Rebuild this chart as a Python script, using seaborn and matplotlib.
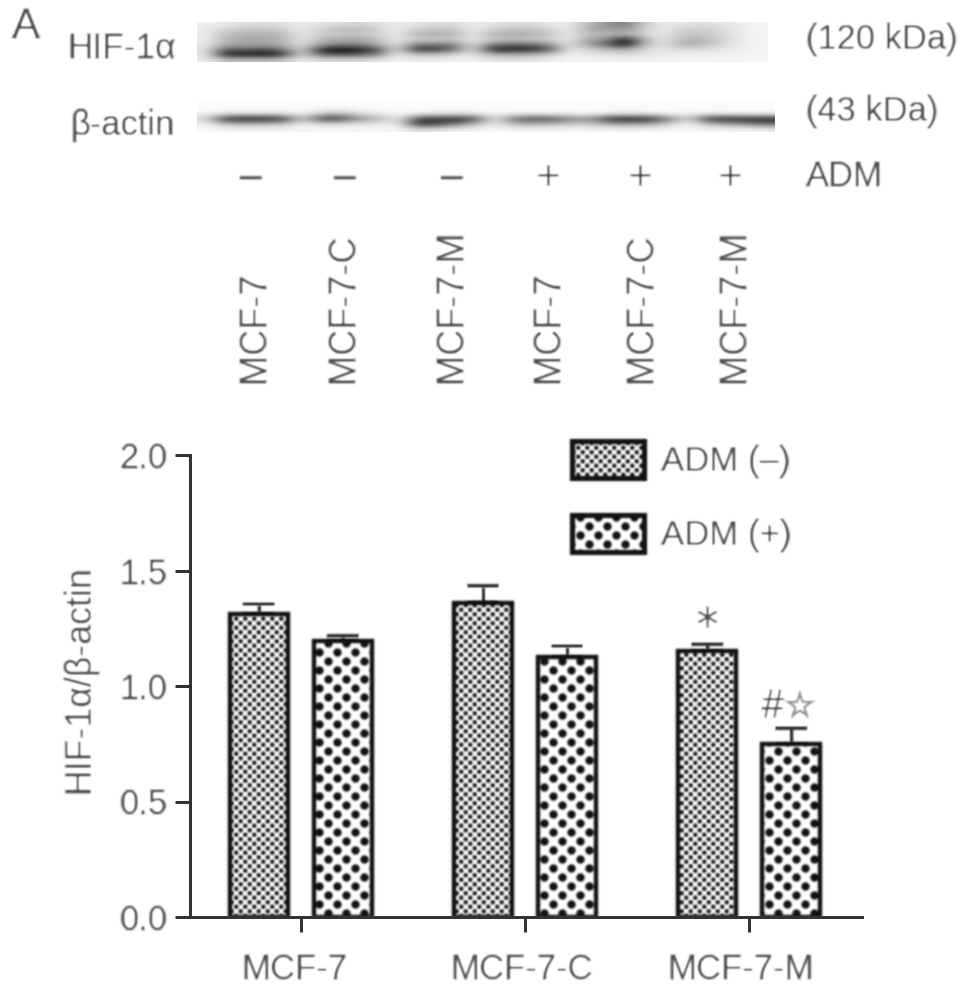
import numpy as np
import pandas as pd
import matplotlib
matplotlib.use("Agg")
import matplotlib.pyplot as plt
import matplotlib.hatch as mhatch
import matplotlib.patheffects as pe
from matplotlib.colors import PowerNorm
from matplotlib.patches import Patch
from matplotlib.path import Path
from matplotlib.transforms import ScaledTranslation
import seaborn as sns

# ---------- data ----------
cell_lines = ["MCF-7", "MCF-7-C", "MCF-7-M"]
treatments = ["ADM (–)", "ADM (+)"]
adm_minus = [1.313, 1.36, 1.152]
adm_plus = [1.195, 1.125, 0.75]
err_minus = [0.042, 0.073, 0.028]
err_plus = [0.02, 0.048, 0.068]
y_ticks = [0.0, 0.5, 1.0, 1.5, 2.0]
lane_labels = ["MCF-7", "MCF-7-C", "MCF-7-M", "MCF-7", "MCF-7-C", "MCF-7-M"]
lane_signs = ["–", "–", "–", "+", "+", "+"]

# band darkness (0-100) read from the blot, rows top to bottom
hif_blot = [
    [8,12,16,18,16,10,14,18,20,16,9,14,18,18,10,14,18,18,14,8,30,45,55,25,10,14,16,14,10,6],
    [10,22,26,26,24,10,24,30,32,24,9,24,26,26,10,22,28,28,22,9,38,40,45,25,10,24,24,20,10,6],
    [10,30,35,34,32,12,22,25,26,20,10,34,38,36,12,34,38,36,28,10,30,30,35,20,10,26,26,20,10,6],
    [10,32,38,38,34,12,32,38,40,30,10,22,22,24,10,24,26,25,22,10,38,48,92,35,12,32,34,22,12,6],
    [12,38,38,40,36,14,40,50,50,35,12,55,55,55,14,55,60,60,48,12,42,60,95,30,14,36,34,20,10,6],
    [14,65,62,68,58,16,85,95,88,70,14,80,80,60,15,85,88,85,70,12,20,30,35,20,12,18,16,12,10,6],
    [14,88,90,92,85,16,65,70,65,55,10,28,28,22,12,35,35,35,25,10,12,16,18,14,10,10,10,8,8,6],
    [10,30,28,30,25,10,18,18,18,14,8,10,10,8,8,14,14,14,10,6,6,8,8,8,8,6,6,6,6,4],
]
actin_blot = [
    [2,2,2,2,2,2,2,2,2,2,2,2,2,2,2,2,2,2,2,2,2,2,2,2,2,2,2,2,2,2],
    [3,3,3,3,3,3,5,5,3,3,3,3,3,3,3,3,3,3,3,3,3,3,3,3,3,3,3,3,3,3],
    [6,12,12,12,12,6,22,30,14,10,5,8,10,12,10,4,8,8,8,6,5,8,10,8,5,8,8,8,6,6],
    [20,85,88,88,80,25,80,75,45,35,12,75,78,85,70,12,65,70,70,50,50,85,88,85,55,18,80,85,85,85],
    [8,30,32,30,28,8,18,16,14,12,12,85,70,55,30,10,35,35,32,25,25,40,40,38,22,8,30,40,50,60],
    [4,6,6,6,6,5,5,5,5,5,5,16,12,8,6,4,6,6,6,5,6,6,6,6,5,4,6,6,6,8],
]

# ---------- setup ----------
DPI = 108
W, H = 969, 992
INK = "#464646"
LINE = "#333333"
sns.set_style("ticks")
plt.rcParams["font.family"] = ["Liberation Sans", "DejaVu Sans"]
plt.rcParams["hatch.linewidth"] = 0.2


class CheckerDots(mhatch.HatchPatternBase):
    """Diagonal lattice of filled dots: '.' coarse, '*' fine."""

    def __init__(self, hatch, density):
        self.rows = 2 * density * hatch.count(".") + 4 * density * hatch.count("*")
        self.radius = 0.037 if "." in hatch else 0.019
        self.circle = Path.unit_circle()
        self.n = self.rows * (self.rows // 2)
        self.num_vertices = self.n * len(self.circle.vertices)

    def set_vertices_and_codes(self, vertices, codes):
        if not self.rows:
            return
        cols = self.rows // 2
        nv = len(self.circle.vertices)
        k = 0
        for r in range(self.rows):
            for c in range(cols):
                x = (c + (0.75 if r % 2 else 0.25)) / cols
                y = (r + 0.5) / self.rows
                vertices[k:k + nv] = self.circle.vertices * self.radius + [x, y]
                codes[k:k + nv] = self.circle.codes
                k += nv


mhatch._hatch_types[:] = [CheckerDots]


def soften(sigma):
    radius = int(3 * sigma + 1)
    kernel = np.exp(-0.5 * (np.arange(-radius, radius + 1) / sigma) ** 2)
    kernel /= kernel.sum()

    def _filter(img, dpi):
        pad = radius
        out = np.pad(img, ((pad, pad), (pad, pad), (0, 0)), mode="constant")
        for axis in (0, 1):
            out = np.apply_along_axis(lambda a: np.convolve(a, kernel, mode="same"), axis, out)
        return out, -pad, -pad

    return _filter


BLUR = soften(1.0)
fig = plt.figure(figsize=(W / DPI, H / DPI), dpi=DPI, facecolor="white")


def box(l, t, r, b):
    return [l / W, 1 - b / H, (r - l) / W, (b - t) / H]


def label(x, y, s, size, **kw):
    kw.setdefault("color", INK)
    kw.setdefault("ha", "left")
    kw.setdefault("va", "center")
    t = fig.text(x / W, 1 - y / H, s, fontsize=size, **kw)
    t.set_agg_filter(BLUR)
    return t


# ---------- blots ----------
for data, rect in ((hif_blot, (197, 22, 768, 62)), (actin_blot, (197, 100, 775, 132))):
    bax = fig.add_axes(box(*rect))
    bax.imshow(np.array(data), cmap="gray_r", norm=PowerNorm(1.15, vmin=0, vmax=96),
               aspect="auto", interpolation="bicubic")
    bax.axis("off")

label(12, 27, "A", 28)
label(67, 48, "HIF-1α", 23.5)
label(71, 126, "β-actin", 23)
label(806, 40, "(120 kDa)", 23)
label(806, 112, "(43 kDa)", 23)
label(806, 177, "ADM", 23)
for x, s in zip([251, 345, 452, 548, 640, 730], lane_signs):
    label(x, 178, s, 26, ha="center")
for x, s in zip([255, 343, 452, 549, 641, 735], lane_labels):
    label(x, 382, s, 24, rotation=90, ha="center", va="bottom")

# ---------- bars ----------
df = pd.DataFrame({
    "line": cell_lines * 2,
    "treatment": [treatments[0]] * 3 + [treatments[1]] * 3,
    "ratio": adm_minus + adm_plus,
})
ax = fig.add_axes(box(190, 455, 862, 917))
sns.barplot(data=df, x="line", y="ratio", hue="treatment", order=cell_lines, hue_order=treatments,
            palette=["white", "white"], width=0.75, gap=0.3, errorbar=None, legend=False,
            edgecolor="#111111", linewidth=2.9, ax=ax)
for container, pattern, vals, errs in zip(ax.containers, ["*", "."], (adm_minus, adm_plus), (err_minus, err_plus)):
    xs = []
    for bar in container:
        bar.set_hatch(pattern)
        bar.set_agg_filter(BLUR)
        xs.append(bar.get_x() + bar.get_width() / 2)
    parts = ax.errorbar(xs, vals, yerr=[np.zeros(3), errs], fmt="none", ecolor="#222222",
                        elinewidth=2.2, capsize=10.5, capthick=2.4, zorder=0.5)
    for art in list(parts[1]) + list(parts[2]):
        art.set_agg_filter(BLUR)

ax.set_xlim(-0.4955, 2.504)
ax.set_ylim(0, 2)
ax.set_yticks(y_ticks)
ax.set_yticklabels([f"{v:.1f}" for v in y_ticks])
ax.set_xlabel("")
ax.set_ylabel("HIF-1α/β-actin", fontsize=23.8, color=INK, labelpad=15, y=0.515)
ax.yaxis.label.set_agg_filter(BLUR)
ax.tick_params(axis="y", length=10, width=2, color=LINE, labelsize=23, labelcolor=INK, pad=5)
ax.tick_params(axis="x", length=10, width=2, color=LINE, labelsize=23.2, labelcolor=INK, pad=14)
for t in ax.get_yticklabels():
    t.set_agg_filter(BLUR)
for t, shift_px in zip(ax.get_xticklabels(), [-6.5, -4, -9]):
    t.set_agg_filter(BLUR)
    t.set_transform(t.get_transform() + ScaledTranslation(shift_px / DPI, 0, fig.dpi_scale_trans))
sns.despine(ax=ax)
for side in ("left", "bottom"):
    ax.spines[side].set_linewidth(2)
    ax.spines[side].set_color(LINE)

# ---------- significance marks ----------
bar_mid = ax.containers[0][2]
bar_low = ax.containers[1][2]
xm = bar_mid.get_x() + bar_mid.get_width() / 2
xl = bar_low.get_x() + bar_low.get_width() / 2
star = ax.text(xl - 0.03, 0.91, "☆", fontsize=23, color="#929292", ha="left", va="center",
               family="DejaVu Sans",
               path_effects=[pe.withStroke(linewidth=1.0, foreground="#929292")])
for t in (
    ax.text(xm, 1.205, "*", fontsize=28, color=INK, ha="center", va="baseline", family="DejaVu Sans"),
    ax.text(xl - 0.035, 0.91, "#", fontsize=26, color=INK, ha="right", va="center"),
    star,
):
    t.set_agg_filter(BLUR)

# ---------- legend ----------
handles = [
    Patch(facecolor="white", edgecolor="#111111", hatch="*", linewidth=3.4, label=treatments[0]),
    Patch(facecolor="white", edgecolor="#111111", hatch=".", linewidth=3.4, label=treatments[1]),
]
leg = ax.legend(handles=handles, loc="upper left", bbox_to_anchor=(572 / W, 1 - 441 / H),
                bbox_transform=fig.transFigure, frameon=False, fontsize=23.2, borderpad=0, borderaxespad=0,
                handlelength=2.07, handleheight=1.25, labelspacing=1.06, handletextpad=0.5, labelcolor=INK)
for p in leg.get_patches():
    p.set_agg_filter(BLUR)
for t in leg.get_texts():
    t.set_agg_filter(BLUR)

fig.savefig("out.png", dpi=DPI, facecolor="white")
